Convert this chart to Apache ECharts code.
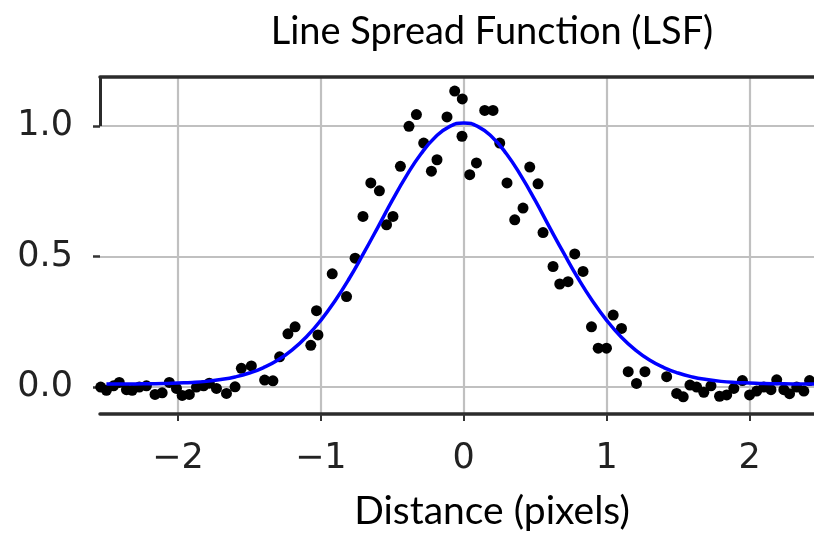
<!DOCTYPE html>
<html>
<head>
<meta charset="utf-8">
<script src="https://cdn.jsdelivr.net/npm/echarts@6/dist/echarts.min.js"></script>
<style>html,body{margin:0;padding:0;background:#fff}#c{width:814px;height:533px}</style>
</head>
<body>
<div id="c"></div>
<script>
// ---- data ----
var titleText = 'Line Spread Function (LSF)';
var xAxisName = 'Distance (pixels)';
var xTicks = [-2, -1, 0, 1, 2];
var yTicks = [0, 0.5, 1.0];

// measured samples (black dots)
var dotX = [-2.54,-2.50,-2.45,-2.41,-2.36,-2.32,-2.27,-2.22,-2.16,-2.11,-2.06,-2.01,-1.97,-1.92,-1.87,-1.82,-1.78,-1.73,-1.66,-1.60,
  -1.556,-1.486,-1.393,-1.335,-1.288,-1.23,-1.18,-1.07,-1.03,-1.02,-0.92,-0.82,-0.76,-0.705,-0.65,-0.59,-0.54,-0.495,-0.443,-0.383,
  -0.331,-0.28,-0.226,-0.187,-0.117,-0.063,-0.01,-0.012,0.042,0.089,0.147,0.205,0.252,0.303,0.357,0.415,0.462,0.52,0.555,0.625,
  0.672,0.73,0.777,0.835,0.894,0.941,0.999,1.046,1.104,1.151,1.209,1.268,1.42,1.49,1.536,1.583,1.63,1.68,1.73,1.79,
  1.84,1.89,1.95,2.00,2.05,2.10,2.15,2.19,2.24,2.28,2.33,2.38,2.42,2.47];
var dotY = [0.0,-0.012,0.005,0.018,-0.01,-0.012,0.0,0.005,-0.028,-0.022,0.018,-0.005,-0.032,-0.028,0.0,0.005,0.015,-0.005,-0.024,0.001,
  0.072,0.081,0.027,0.024,0.116,0.204,0.231,0.160,0.293,0.200,0.434,0.347,0.494,0.654,0.782,0.752,0.622,0.654,0.846,0.999,
  1.044,0.935,0.827,0.871,1.035,1.134,1.104,0.961,0.814,0.859,1.060,1.060,0.935,0.782,0.641,0.686,0.843,0.779,0.592,0.462,
  0.395,0.404,0.510,0.443,0.231,0.149,0.149,0.276,0.225,0.059,0.014,0.059,0.040,-0.024,-0.037,0.008,0.0,-0.02,0.005,-0.035,
  -0.03,-0.005,0.025,-0.03,-0.015,0.0,-0.01,0.028,-0.01,-0.025,0.0,-0.015,0.025,0.0];

// fitted curve (blue line)
var fitX = [-2.5,-2.4,-2.3,-2.2,-2.1,-2.0,-1.9,-1.8,-1.7,-1.6,-1.5,-1.4,-1.3,-1.2,-1.1,-1.0,-0.9,-0.8,-0.7,-0.6,-0.5,-0.4,-0.3,-0.2,-0.1,
  0.0,0.1,0.2,0.3,0.4,0.5,0.6,0.7,0.8,0.9,1.0,1.1,1.2,1.3,1.4,1.5,1.6,1.7,1.8,1.9,2.0,2.1,2.2,2.3,2.4,2.5];
var fitY = [0.012,0.012,0.012,0.013,0.014,0.016,0.018,0.022,0.029,0.039,0.054,0.075,0.104,0.143,0.193,0.256,0.331,0.417,0.513,0.613,0.715,0.810,0.893,0.957,0.998,
  1.012,0.998,0.957,0.893,0.810,0.715,0.613,0.513,0.417,0.331,0.256,0.193,0.143,0.104,0.075,0.054,0.039,0.029,0.022,0.018,0.016,0.014,0.013,0.012,0.012,0.012];

var X_MIN = -2.545, X_MAX = 2.451, Y_MIN = -0.103, Y_MAX = 1.188;

function zip(a, b) { var r = []; for (var i = 0; i < a.length; i++) r.push([a[i], b[i]]); return r; }

var chart = echarts.init(document.getElementById('c'), null, { renderer: 'canvas' });
var tickFont = 'DejaVu Sans';
var option = {
  animation: false,
  backgroundColor: '#ffffff',
  grid: { left: 100, right: 0, top: 77, bottom: 119, containLabel: false },
  xAxis: [{
    type: 'value', min: X_MIN, max: X_MAX, position: 'bottom',
    axisLine: { show: true, onZero: false, lineStyle: { color: '#2b2b2b', width: 3.5 } },
    axisTick: { show: true, customValues: xTicks, length: 7, lineStyle: { color: '#333', width: 2 } },
    axisLabel: { show: true, customValues: xTicks, margin: 27, fontFamily: tickFont, fontSize: 35, color: '#222',
      formatter: function (v) { return v < 0 ? '\u2212' + Math.abs(v) : String(v); } },
    splitLine: { show: true, lineStyle: { color: '#c0c0c0', width: 2.2 } }
  }, {
    type: 'value', min: X_MIN, max: X_MAX, position: 'top',
    axisLine: { show: true, onZero: false, lineStyle: { color: '#2b2b2b', width: 3.5 } },
    axisTick: { show: false }, axisLabel: { show: false }, splitLine: { show: false }
  }],
  yAxis: {
    type: 'value', min: Y_MIN, max: Y_MAX, position: 'left',
    axisLine: { show: false, onZero: false },
    axisTick: { show: true, customValues: yTicks, length: 7, lineStyle: { color: '#333', width: 2.5 } },
    axisLabel: { show: true, customValues: yTicks, margin: 27, fontFamily: tickFont, fontSize: 35, color: '#222',
      formatter: function (v) { return v.toFixed(1); } },
    splitLine: { show: true, lineStyle: { color: '#c0c0c0', width: 2.2 } }
  },
  graphic: [
    { type: 'text', x: 492, y: 32, style: { text: titleText, font: '38px Lato', fill: '#000', textAlign: 'center', textVerticalAlign: 'middle' } },
    { type: 'text', x: 492, y: 511, style: { text: xAxisName, font: '39px Lato', fill: '#000', textAlign: 'center', textVerticalAlign: 'middle' } }
  ],
  series: [{
    type: 'scatter', xAxisIndex: 0, yAxisIndex: 0,
    data: zip(dotX, dotY),
    symbol: 'circle', symbolSize: 11,
    itemStyle: { color: '#000', opacity: 1 },
    z: 3,
    markLine: {
      silent: true, symbol: 'none', label: { show: false },
      lineStyle: { color: '#2b2b2b', width: 3, type: 'solid' },
      data: [[{ coord: [X_MIN, 1.0] }, { coord: [X_MIN, Y_MAX] }]]
    }
  }, {
    type: 'line', xAxisIndex: 0, yAxisIndex: 0,
    data: zip(fitX, fitY),
    smooth: true, showSymbol: false, symbol: 'none',
    lineStyle: { color: '#0000ff', width: 3.5 },
    z: 4
  }]
};
chart.setOption(option);
</script>
</body>
</html>
